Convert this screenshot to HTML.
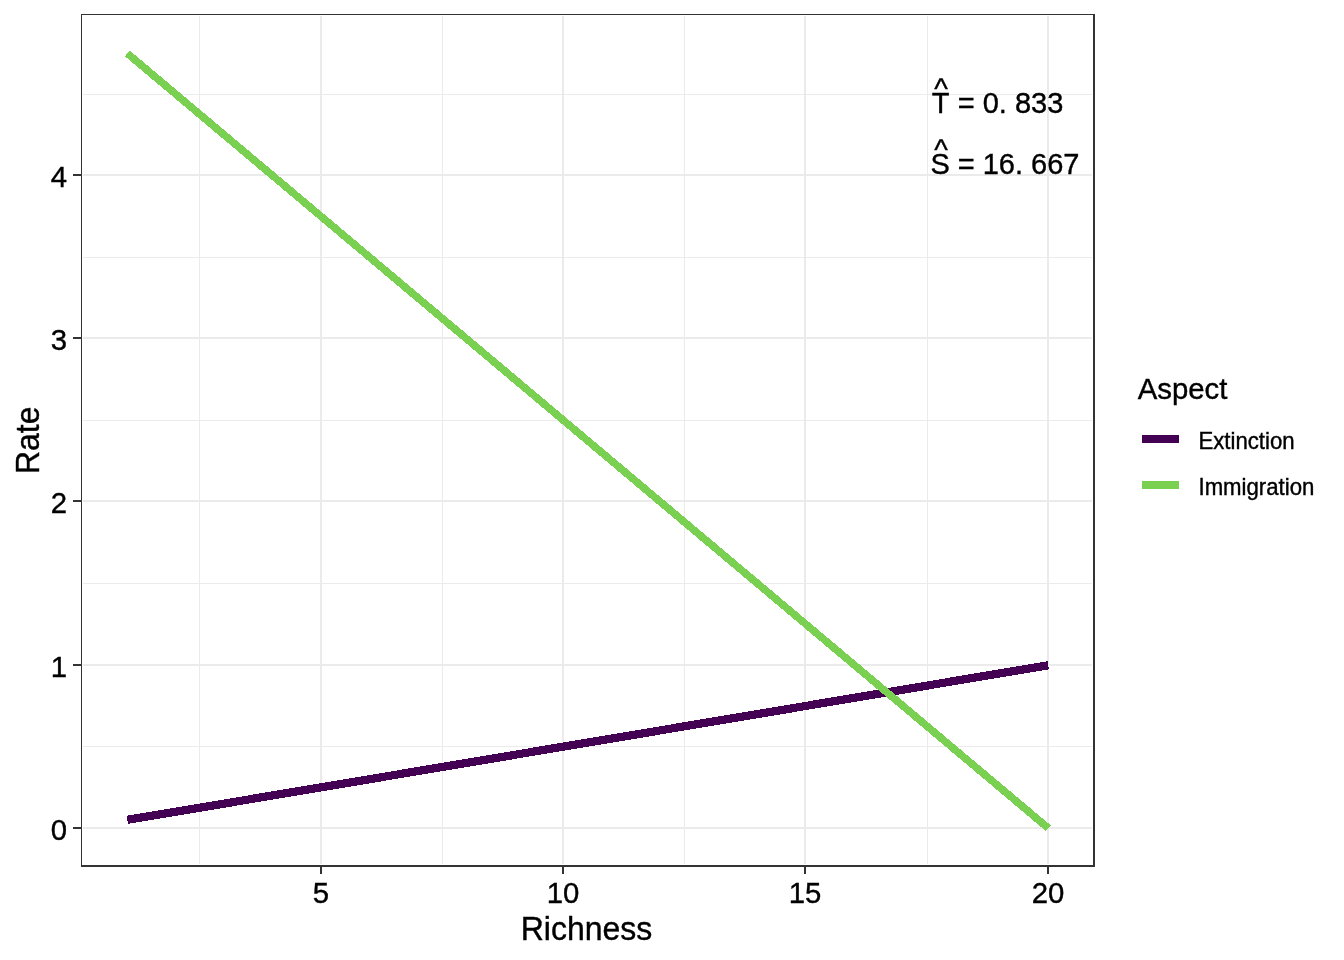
<!DOCTYPE html>
<html lang="en">
<head>
<meta charset="utf-8">
<title>Rate vs Richness</title>
<style>
html,body{margin:0;padding:0;background:#fff;}
body{width:1344px;height:960px;overflow:hidden;}
svg{display:block;}
text{font-family:"Liberation Sans",Arial,Helvetica,sans-serif;fill:#000;stroke:#000;stroke-width:0.4px;}
</style>
</head>
<body>
<svg width="1344" height="960" viewBox="0 0 1344 960">
<rect x="0" y="0" width="1344" height="960" fill="#ffffff"/>
<!-- grid lines -->
<g shape-rendering="crispEdges" fill="#ebebeb">
  <rect x="83" y="94" width="1009" height="1"/>
  <rect x="83" y="257" width="1009" height="1"/>
  <rect x="83" y="420" width="1009" height="1"/>
  <rect x="83" y="583" width="1009" height="1"/>
  <rect x="83" y="746" width="1009" height="1"/>
  <rect x="199" y="16" width="1" height="848"/>
  <rect x="442" y="16" width="1" height="848"/>
  <rect x="684" y="16" width="1" height="848"/>
  <rect x="927" y="16" width="1" height="848"/>
  <rect x="83" y="827" width="1009" height="2"/>
  <rect x="83" y="664" width="1009" height="2"/>
  <rect x="83" y="500" width="1009" height="2"/>
  <rect x="83" y="337" width="1009" height="2"/>
  <rect x="83" y="174" width="1009" height="2"/>
  <rect x="320" y="16" width="2" height="848"/>
  <rect x="562" y="16" width="2" height="848"/>
  <rect x="804" y="16" width="2" height="848"/>
  <rect x="1047" y="16" width="2" height="848"/>
</g>
<!-- data lines -->
<g shape-rendering="crispEdges" fill="none" stroke-linecap="butt">
  <line x1="127.3" y1="819.85" x2="1048.3" y2="665.25" stroke="#440154" stroke-width="8.2"/>
  <line x1="127.3" y1="53.4" x2="1048.3" y2="828.2" stroke="#7ad151" stroke-width="7.5"/>
</g>
<!-- annotations -->
<g>
  <text transform="translate(931.7,112.7) scale(0.967,1)" font-size="30.0">T</text>
  <text transform="translate(934.2,98.8) scale(0.967,1)" font-size="30.0">^</text>
  <text transform="translate(957.7,112.7) scale(0.967,1)" font-size="30.0">= 0. 833</text>
  <text transform="translate(930.6,173.7) scale(0.967,1)" font-size="30.0">S</text>
  <text transform="translate(934.2,159.8) scale(0.967,1)" font-size="30.0">^</text>
  <text transform="translate(957.7,173.7) scale(0.967,1)" font-size="30.0">= 16. 667</text>
</g>
<!-- panel border and ticks -->
<g shape-rendering="crispEdges" fill="#333333">
  <rect x="81" y="14" width="1014" height="1"/>
  <rect x="81" y="14" width="1" height="853"/>
  <rect x="1093" y="14" width="2" height="853"/>
  <rect x="81" y="865" width="1014" height="2"/>
  <rect x="73" y="827" width="8" height="2"/>
  <rect x="73" y="664" width="8" height="2"/>
  <rect x="73" y="500" width="8" height="2"/>
  <rect x="73" y="337" width="8" height="2"/>
  <rect x="73" y="174" width="8" height="2"/>
  <rect x="320" y="867" width="2" height="7"/>
  <rect x="562" y="867" width="2" height="7"/>
  <rect x="804" y="867" width="2" height="7"/>
  <rect x="1047" y="867" width="2" height="7"/>
</g>
<!-- tick labels -->
<g>
  <text transform="translate(67.1,839.9) scale(0.968,1)" font-size="30.3" text-anchor="end">0</text>
  <text transform="translate(67.1,676.9) scale(0.968,1)" font-size="30.3" text-anchor="end">1</text>
  <text transform="translate(67.1,512.9) scale(0.968,1)" font-size="30.3" text-anchor="end">2</text>
  <text transform="translate(67.1,349.9) scale(0.968,1)" font-size="30.3" text-anchor="end">3</text>
  <text transform="translate(67.1,186.9) scale(0.968,1)" font-size="30.3" text-anchor="end">4</text>
  <text transform="translate(321,902.8) scale(0.968,1)" font-size="30.3" text-anchor="middle">5</text>
  <text transform="translate(563,902.8) scale(0.968,1)" font-size="30.3" text-anchor="middle">10</text>
  <text transform="translate(805,902.8) scale(0.968,1)" font-size="30.3" text-anchor="middle">15</text>
  <text transform="translate(1048,902.8) scale(0.968,1)" font-size="30.3" text-anchor="middle">20</text>
</g>
<!-- axis titles -->
<text transform="translate(586.5,939.6) scale(0.9816,1)" font-size="32.6" text-anchor="middle">Richness</text>
<text transform="translate(39.1,440.3) rotate(-90) scale(0.9816,1)" font-size="32.6" text-anchor="middle">Rate</text>
<!-- legend -->
<text transform="translate(1137.7,398.7) scale(0.968,1)" font-size="30.3">Aspect</text>
<g shape-rendering="crispEdges">
  <rect x="1142" y="435" width="37" height="8" fill="#440154"/>
  <rect x="1142" y="481" width="37" height="8" fill="#7ad151"/>
</g>
<text transform="translate(1198.5,448.7) scale(0.936,1)" font-size="23.7">Extinction</text>
<text transform="translate(1198.5,494.7) scale(0.936,1)" font-size="23.7">Immigration</text>
</svg>
</body>
</html>
